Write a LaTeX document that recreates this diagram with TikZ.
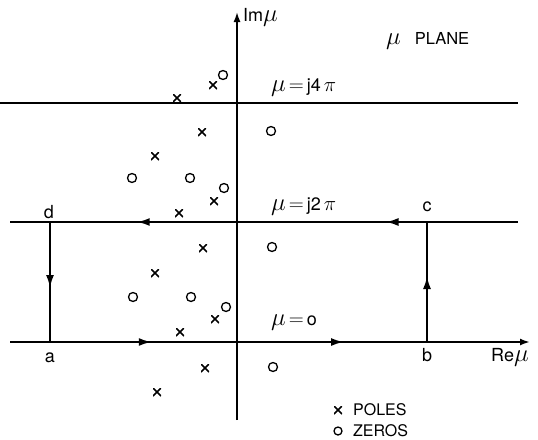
\documentclass[tikz,border=0pt]{standalone}
\usepackage{fontspec}
\setmainfont{TeX Gyre Heros}
\usetikzlibrary{arrows.meta,decorations.markings}
\newcommand{\bigmu}{{\fontsize{23}{25}\selectfont$\mu$}}
\newcommand{\bigeq}{{\fontsize{21}{25}\selectfont$=$}}
\newcommand{\bigpi}{{\fontsize{21}{25}\selectfont$\pi$}}
\tikzset{
  axis/.style={line width=1.7pt},
  contour/.style={line width=2.3pt},
  tip/.style={-{Latex[length=10pt,width=7pt]}},
  midarrow/.style={postaction={decorate},decoration={markings,mark=at position #1 with {\arrow{Latex[length=13pt,width=8pt]}}}},
  pole/.style={path picture={\draw[line width=1.5pt] (path picture bounding box.south west) -- (path picture bounding box.north east) (path picture bounding box.north west) -- (path picture bounding box.south east);}, minimum size=8pt, inner sep=0pt},
  zero/.style={circle, draw, line width=1.3pt, minimum size=9pt, inner sep=0pt},
  lbl/.style={font=\fontsize{18}{20}\selectfont, inner sep=1pt},
  small/.style={font=\fontsize{16}{18}\selectfont, inner sep=1pt}
}
\begin{document}
\begin{tikzpicture}[x=1pt,y=-1pt]
\useasboundingbox (0,0) rectangle (538,439);
% coordinates
\coordinate (imb) at (237,420);
\coordinate (imt) at (237,12);
\coordinate (l4l) at (0,103);
\coordinate (l4r) at (518,103);
\coordinate (l2l) at (10,222);
\coordinate (l2r) at (518,222);
\coordinate (l0l) at (10,342);
\coordinate (l0r) at (530,342);
\coordinate (a) at (50,342);
\coordinate (b) at (427,342);
\coordinate (c) at (427,222);
\coordinate (d) at (50,222);
% axes and lines
\draw[axis,tip] (imb) -- (imt);
\draw[axis] (l4l) -- (l4r);
\draw[contour] (l2l) -- (l2r);
\draw[contour,tip] (l0l) -- (l0r);
% contour arrows
\draw[contour,midarrow=0.27] (a) -- (b);
\draw[contour,midarrow=0.78] (a) -- (b);
\draw[contour,midarrow=0.55] (b) -- (c);
\draw[contour,midarrow=0.11] (c) -- (d);
\draw[contour,midarrow=0.77] (c) -- (d);
\draw[contour,midarrow=0.55] (d) -- (a);
% labels
\node[lbl,anchor=west] (im) at (242,17) {Im\bigmu};
\node[lbl,anchor=west] (re) at (490,357) {Re\bigmu};
\node[lbl] (la) at (50,358) {a};
\node[lbl] (lb) at (427,355) {b};
\node[lbl] (lc) at (427,207) {c};
\node[lbl] (ld) at (49,212) {d};
\node[anchor=west,inner sep=1pt] (plane) at (385,41) {\bigmu\hspace{14pt}{\fontsize{16.5}{18}\selectfont PLANE}};
\node[lbl,anchor=west] (m4) at (270,88) {\bigmu\,\bigeq\,j4\,\bigpi};
\node[lbl,anchor=west] (m2) at (270,207) {\bigmu\,\bigeq\,j2\,\bigpi};
\node[lbl,anchor=west] (m0) at (270,323) {\bigmu\,\bigeq\,o};
% poles
\foreach \p [count=\i] in {(177,98),(213,85),(202,132),(155,156),(214,201),(179,213),(203,248),(155,273),(215,319),(180,332),(205,368),(157,392)}
  \node[pole] (p\i) at \p {};
% zeros
\foreach \z [count=\i] in {(223,75),(271,131),(132,178),(190,178),(224,188),(272,247),(133,297),(191,297),(226,307),(273,367)}
  \node[zero] (z\i) at \z {};
% legend
\node[pole] (lp) at (338,410) {};
\node[small,anchor=west] (lpt) at (352,410) {POLES};
\node[zero,minimum size=8pt] (lz) at (338,431) {};
\node[small,anchor=west] (lzt) at (352,431) {ZEROS};
\end{tikzpicture}
\end{document}
